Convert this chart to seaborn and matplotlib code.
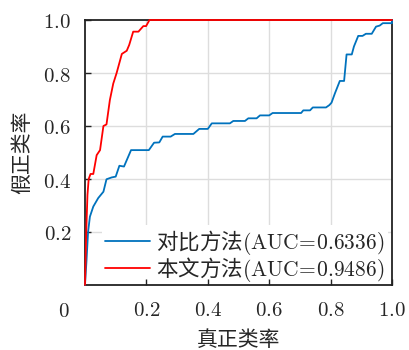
import matplotlib
matplotlib.use('Agg')
import matplotlib.pyplot as plt
import seaborn as sns
import pandas as pd

# ---- data ----
blue_fpr = [0.0, 0.005, 0.010, 0.016, 0.027, 0.043, 0.060, 0.070, 0.087, 0.100, 0.112, 0.127,
            0.150, 0.208, 0.225, 0.242, 0.253, 0.279, 0.293, 0.353, 0.372, 0.400, 0.413,
            0.472, 0.483, 0.521, 0.532, 0.559, 0.570, 0.600, 0.611, 0.704, 0.711, 0.733,
            0.742, 0.785, 0.796, 0.803, 0.814, 0.830, 0.844, 0.852, 0.869, 0.876, 0.890,
            0.904, 0.915, 0.934, 0.948, 0.960, 0.970, 1.000, 1.000]
blue_tpr = [0.0, 0.094, 0.200, 0.258, 0.296, 0.328, 0.352, 0.399, 0.406, 0.409, 0.450, 0.447,
            0.509, 0.509, 0.537, 0.538, 0.560, 0.560, 0.570, 0.570, 0.589, 0.589, 0.610,
            0.610, 0.619, 0.619, 0.629, 0.629, 0.640, 0.640, 0.649, 0.649, 0.659, 0.659,
            0.670, 0.670, 0.679, 0.688, 0.723, 0.770, 0.770, 0.870, 0.870, 0.900, 0.940,
            0.940, 0.948, 0.948, 0.975, 0.979, 0.988, 0.988, 1.000]
red_fpr = [0.0, 0.004, 0.008, 0.012, 0.018, 0.027, 0.038, 0.049, 0.060, 0.070, 0.081, 0.092,
           0.103, 0.120, 0.136, 0.144, 0.157, 0.174, 0.190, 0.199, 0.210, 1.000]
red_tpr = [0.0, 0.200, 0.340, 0.400, 0.419, 0.419, 0.490, 0.509, 0.600, 0.606, 0.698, 0.760,
           0.800, 0.872, 0.884, 0.906, 0.956, 0.956, 0.977, 0.977, 1.000, 1.000]

series_names = ['对比方法$\\mathrm{(AUC}\\!=\\!\\mathrm{0.6336)}$',
                '本文方法$\\mathrm{(AUC}\\!=\\!\\mathrm{0.9486)}$']
series_colors = ['#0072BD', '#FF0000']
tick_values = [0.2, 0.4, 0.6, 0.8, 1.0]
tick_labels = ['$0.2$', '$0.4$', '$0.6$', '$0.8$', '$1.0$']
origin_label = '$0$'
x_label = '真正类率'
y_label = '假正类率'

sns.set_style('white')
plt.rcParams['font.family'] = ['Noto Sans CJK SC', 'DejaVu Sans']
plt.rcParams['mathtext.fontset'] = 'cm'

df = pd.concat([
    pd.DataFrame({'fpr': blue_fpr, 'tpr': blue_tpr, 'method': series_names[0]}),
    pd.DataFrame({'fpr': red_fpr, 'tpr': red_tpr, 'method': series_names[1]}),
], ignore_index=True)

fig = plt.figure(figsize=(4.1, 3.5), dpi=100)
ax = fig.add_axes([85 / 410, 1 - 285 / 350, 307 / 410, 265 / 350])

sns.lineplot(data=df, x='fpr', y='tpr', hue='method', hue_order=series_names,
             palette=series_colors, sort=False, estimator=None, linewidth=1.3,
             ax=ax, zorder=3, clip_on=False)

ax.set_xlim(0, 1)
ax.set_ylim(0, 1)
ax.set_xticks(tick_values)
ax.set_xticklabels(tick_labels)
ax.set_yticks(tick_values)
ax.set_yticklabels(tick_labels)
ax.tick_params(axis='both', direction='in', length=4, width=1, color='#222222',
               labelsize=15, bottom=True, left=True, top=False, right=False)
ax.tick_params(axis='x', pad=10)
ax.tick_params(axis='y', pad=10)
ax.grid(False)
ax.set_axisbelow(False)
for v in tick_values[:-1]:
    ax.axvline(v, color='#dddddd', linewidth=1, zorder=0.4)
    ax.axhline(v, color='#dddddd', linewidth=1, zorder=0.4)
for s in ax.spines.values():
    s.set_color('#222222')
    s.set_linewidth(1.3)

ax.annotate(origin_label, xy=(0, 0), xycoords='data', xytext=(-21, -26),
            textcoords='offset pixels', ha='center', va='center', fontsize=15)

ax.set_xlabel(x_label, fontsize=15)
ax.set_ylabel(y_label, fontsize=15)
ax.xaxis.set_label_coords(0.5, -0.165)
ax.yaxis.set_label_coords(-0.17, 0.5)

leg = ax.legend(loc='lower right', bbox_to_anchor=(1.0 - 4 / 307, -2 / 265), fontsize=15.5,
                frameon=True, facecolor='white', edgecolor='none', framealpha=1,
                fancybox=False, handlelength=2.1, handletextpad=0.3,
                labelspacing=-0.1, borderpad=0.15, borderaxespad=0.0)
leg.set_title(None)
leg.set_zorder(2)

fig.savefig('out.png', dpi=100, facecolor='white')
